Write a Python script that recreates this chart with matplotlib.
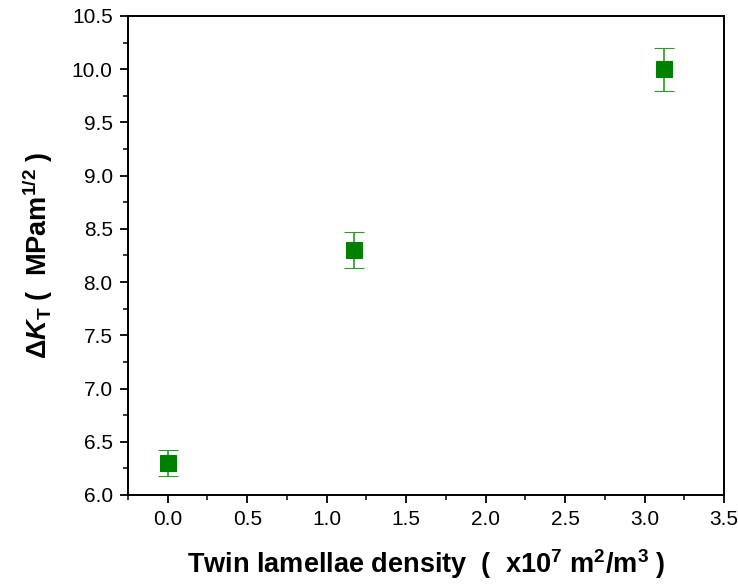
import matplotlib
matplotlib.use("Agg")
import matplotlib.pyplot as plt
from matplotlib.ticker import MultipleLocator, FormatStrFormatter

plt.rcParams['font.family'] = ['Liberation Sans', 'DejaVu Sans']
plt.rcParams['mathtext.fontset'] = 'custom'
plt.rcParams['mathtext.rm'] = 'Liberation Sans:bold'
plt.rcParams['mathtext.it'] = 'Liberation Sans:italic:bold'
plt.rcParams['mathtext.bf'] = 'Liberation Sans:bold'

density = [0.0, 1.17, 3.12]
delta_k = [6.3, 8.3, 10.0]
err = [0.12, 0.17, 0.2]

fig = plt.figure(figsize=(7.38, 5.86), dpi=100)
ax = fig.add_axes([128/738, 1 - 495/586, (724-128)/738, (495-16)/586])

ax.errorbar(density, delta_k, yerr=err, fmt='s', color='#008000', ecolor='#2a9a2a',
            markersize=12, elinewidth=1.2, capsize=7, capthick=1.2, markeredgewidth=0.8)

ax.set_xlim(-0.25, 3.5)
ax.set_ylim(6.0, 10.5)
ax.xaxis.set_major_locator(MultipleLocator(0.5))
ax.xaxis.set_minor_locator(MultipleLocator(0.25))
ax.yaxis.set_major_locator(MultipleLocator(0.5))
ax.yaxis.set_minor_locator(MultipleLocator(0.25))
ax.xaxis.set_major_formatter(FormatStrFormatter('%.1f'))
ax.yaxis.set_major_formatter(FormatStrFormatter('%.1f'))
ax.tick_params(which='major', direction='out', length=6, width=1.3, labelsize=15, pad=5)
ax.tick_params(which='minor', direction='out', length=3.5, width=1.1)
for s in ax.spines.values():
    s.set_linewidth(1.4)

ax.set_xlabel(r'Twin lamellae density  (  x10$^{7}$ m$^{2}$/m$^{3}$ )',
              fontsize=19.5, fontweight='bold', labelpad=13)
ax.set_ylabel(r'$\Delta\mathit{K}_{\mathrm{T}}$ (  MPam$^{1/2}$ )',
              fontsize=19.5, fontweight='bold', labelpad=12)

fig.savefig('out.png', dpi=100)
